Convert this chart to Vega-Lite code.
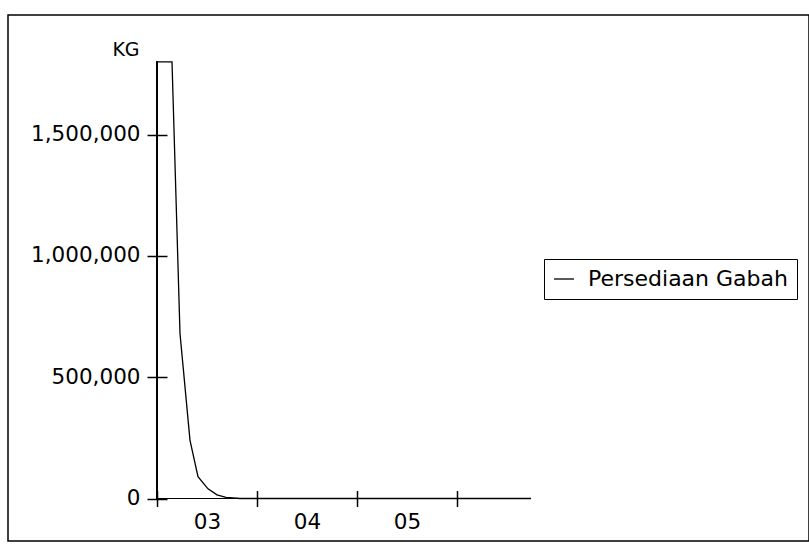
{
  "$schema": "https://vega.github.io/schema/vega-lite/v6.json",
  "width": 801,
  "height": 526,
  "autosize": {"type": "none"},
  "padding": {"left": 8, "top": 15, "right": 0, "bottom": 5},
  "background": "white",
  "config": {
    "view": {"stroke": "black", "strokeWidth": 1.5},
    "font": "DejaVu Sans",
    "axis": {
      "grid": false,
      "domain": false,
      "tickColor": "black",
      "tickWidth": 1.5,
      "labelColor": "black",
      "labelFont": "DejaVu Sans",
      "labelFontSize": 21.5,
      "titleColor": "black",
      "titleFont": "DejaVu Sans",
      "titleFontWeight": "normal"
    },
    "legend": {
      "labelFont": "DejaVu Sans",
      "labelFontSize": 22,
      "labelColor": "black",
      "labelLimit": 0
    }
  },
  "data": {
    "values": [
      {"x": 0, "v": 1800000},
      {"x": 0.15, "v": 1800000},
      {"x": 0.23, "v": 680000},
      {"x": 0.33, "v": 240000},
      {"x": 0.41, "v": 90000},
      {"x": 0.51, "v": 40000},
      {"x": 0.6, "v": 15000},
      {"x": 0.69, "v": 5000},
      {"x": 0.83, "v": 0},
      {"x": 3.74, "v": 0}
    ]
  },
  "layer": [
    {
      "mark": {"type": "line", "strokeWidth": 1.3, "interpolate": "linear"},
      "encoding": {
        "x": {
          "field": "x", "type": "quantitative",
          "scale": {"domain": [-1.49, 6.52], "nice": false, "zero": false},
          "axis": {
            "orient": "bottom", "offset": -42.5, "title": null,
            "values": [0, 1, 2, 3], "tickSize": 8, "labelPadding": 5,
            "labelOffset": -50, "labelAlign": "center",
            "labelExpr": "datum.value == 1 ? '03' : datum.value == 2 ? '04' : datum.value == 3 ? '05' : ''"
          }
        },
        "y": {
          "field": "v", "type": "quantitative",
          "scale": {"domain": [-175185, 1992993], "nice": false, "zero": false},
          "axis": {
            "orient": "left", "offset": -149,
            "values": [0, 500000, 1000000, 1500000], "format": ",d",
            "tickSize": 10, "labelPadding": 7,
            "title": "KG", "titleAngle": 0, "titleAlign": "center",
            "titleBaseline": "alphabetic", "titleX": -31.5, "titleY": 40,
            "titleFontSize": 19
          }
        },
        "color": {
          "datum": "Persediaan Gabah",
          "scale": {"range": ["black"]},
          "legend": {
            "title": null, "orient": "none", "legendX": 536, "legendY": 244,
            "symbolType": "stroke", "symbolSize": 400, "symbolStrokeWidth": 1.3,
            "strokeColor": "black", "fillColor": "white", "padding": 9,
            "cornerRadius": 0, "labelOffset": 13, "labelLimit": 0
          }
        }
      }
    },
    {
      "mark": {"type": "point", "opacity": 0, "size": 1},
      "encoding": {
        "x": {
          "field": "x", "type": "quantitative",
          "scale": {"domain": [-1.49, 6.52], "nice": false, "zero": false},
          "axis": {
            "orient": "bottom", "offset": -42.5, "title": null,
            "values": [0, 1, 2, 3], "tickSize": -8, "labels": false
          }
        },
        "y": {
          "field": "v", "type": "quantitative",
          "scale": {"domain": [-175185, 1992993], "nice": false, "zero": false},
          "axis": {
            "orient": "left", "offset": -149, "title": null,
            "values": [0, 500000, 1000000, 1500000],
            "tickSize": -10, "labels": false
          }
        }
      }
    },
    {
      "mark": {"type": "rule", "color": "black", "strokeWidth": 1.5},
      "encoding": {
        "x": {"datum": 0, "type": "quantitative", "axis": null},
        "y": {"datum": 0, "type": "quantitative", "axis": null},
        "y2": {"datum": 1800000}
      }
    },
    {
      "mark": {"type": "rule", "color": "black", "strokeWidth": 1.2},
      "encoding": {
        "x": {"datum": 0, "type": "quantitative", "axis": null},
        "x2": {"datum": 3.74},
        "y": {"datum": 0, "type": "quantitative", "axis": null}
      }
    }
  ],
  "resolve": {"axis": {"x": "independent", "y": "independent"}}
}
